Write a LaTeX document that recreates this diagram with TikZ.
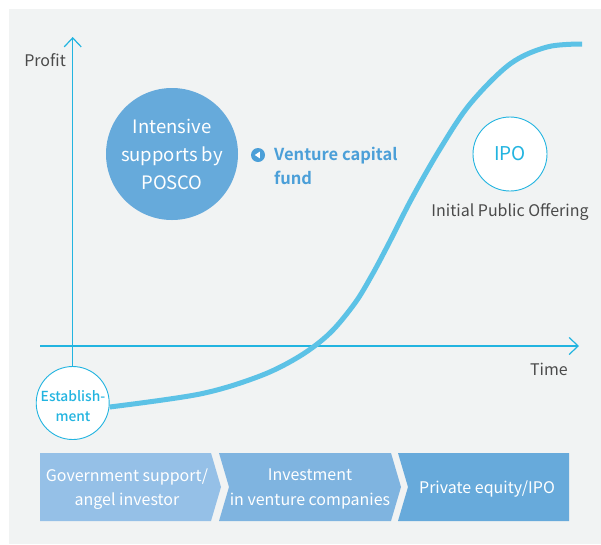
\documentclass[tikz,border=0pt]{standalone}
\usepackage{fontspec}
\setmainfont{Noto Sans CJK KR}[BoldFont={Noto Sans CJK KR Bold}]
\newfontfamily\mediumfont{Noto Sans CJK KR Medium}
\usetikzlibrary{arrows.meta,calc}
\definecolor{bgfill}{HTML}{F1F3F3}
\definecolor{axiscol}{HTML}{22B4E0}
\definecolor{curvecol}{HTML}{5CC2E6}
\definecolor{bigblue}{HTML}{66AADB}
\definecolor{vcblue}{HTML}{4B9FD8}
\definecolor{greytext}{HTML}{4A4A4A}
\definecolor{stepA}{HTML}{95C0E7}
\definecolor{stepB}{HTML}{7FB4E0}
\definecolor{stepC}{HTML}{67AADB}
\tikzset{
  axisline/.style={draw=axiscol, line width=1.2pt,
    -{Straight Barb[length=9pt,width=17pt,line width=1.2pt]}},
  outlinecircle/.style={circle, draw=axiscol, line width=0.9pt, fill=white,
    text=axiscol, align=center, inner sep=0pt},
  steptext/.style={text=white, align=center, font=\fontsize{16}{24.5}\selectfont},
  labeltext/.style={text=greytext, inner sep=0pt, font=\fontsize{16}{19}\selectfont},
}
\begin{document}
\begin{tikzpicture}[x=1pt,y=-1pt]
  \useasboundingbox (0,0) rectangle (601,544);
  % background panel
  \fill[bgfill] (9,9) rectangle (601,544);

  % circles on the chart
  \node[outlinecircle, minimum size=73pt] (est) at (72.7,403) {};
  \node[text=axiscol, align=center, inner sep=0pt,
    font=\mediumfont\fontsize{13.8}{20}\selectfont]
    (esttext) at (73,406.5) {Establish-\\ment};
  \node[outlinecircle, minimum size=74pt, font=\fontsize{19}{22}\selectfont]
    (ipo) at (510,154) {IPO};
  \node[circle, fill=bigblue, minimum size=132pt, inner sep=0pt, text=white,
    align=center, font=\fontsize{18.5}{28}\selectfont]
    (posco) at (172,154) {Intensive\\supports by\\POSCO};

  % axes
  \coordinate (ytip) at (72.7,37);
  \coordinate (xstart) at (40,346);
  \coordinate (xtip) at (579,346);
  \draw[axisline] (est.north) -- (ytip);
  \draw[axisline] (xstart) -- (xtip);

  % axis labels
  \node[labeltext, anchor=east] (profit) at (66,60) {Profit};
  \node[labeltext, anchor=east] (time) at (568,369) {Time};
  \node[labeltext] (ipolabel) at (510,212) {Initial Public Offering};

  % growth curve
  \coordinate (cend) at (582,44);
  \coordinate (cstart) at ($(est.east)+(0,4)$);
  \draw[curvecol, line width=5pt]
    plot[smooth, tension=0.55] coordinates {
      (cstart) (200,394) (260,376) (300,356) (330,333) (355,303)
      (372,275) (388,245) (412,198) (440,149) (470,104) (510,64)
      (547,47) (cend)};

  % venture capital fund label
  \node[circle, fill=vcblue, minimum size=14pt, inner sep=0pt] (bullet) at (258,155) {};
  \fill[white] ($(bullet.center)+(-3.2,0)$) -- ++(5,-3.3) -- ++(0,6.6) -- cycle;
  \node[anchor=north west, text=vcblue, align=left,
    font=\bfseries\fontsize{16.5}{24}\selectfont, inner sep=0pt]
    (vc) at (274,146.5) {Venture capital\\fund};

  % stage chevrons
  \fill[stepA] (40,453) -- (211,453) -- (221,487) -- (211,521) -- (40,521) -- cycle;
  \fill[stepB] (219,453) -- (391,453) -- (401,487) -- (391,521) -- (219,521) -- (229,487) -- cycle;
  \fill[stepC] (398,453) -- (569,453) -- (569,521) -- (398,521) -- (408,487) -- cycle;
  \node[steptext] (s1) at (127,489) {Government support/\\angel investor};
  \node[steptext] (s2) at (310,489) {Investment\\in venture companies};
  \node[steptext] (s3) at (487,489) {Private equity/IPO};
\end{tikzpicture}
\end{document}
